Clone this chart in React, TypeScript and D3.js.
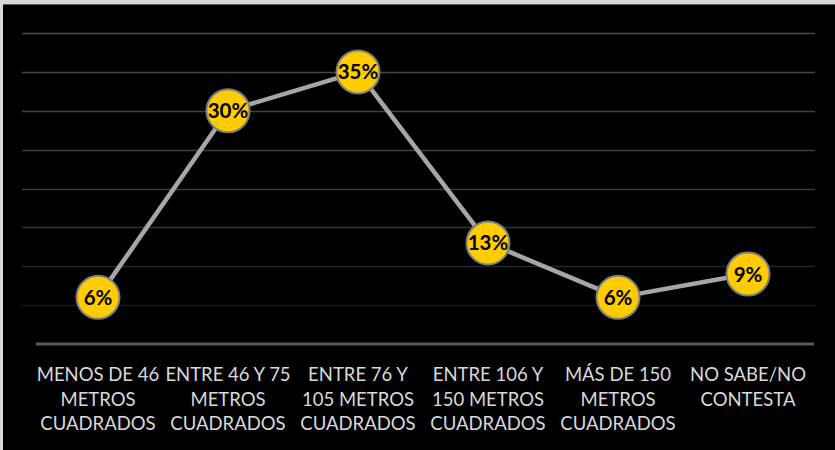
import { useEffect, useRef } from 'react';
import * as d3 from 'd3';

const categories = [
  ['MENOS DE 46', 'METROS', 'CUADRADOS'],
  ['ENTRE 46 Y 75', 'METROS', 'CUADRADOS'],
  ['ENTRE 76 Y', '105 METROS', 'CUADRADOS'],
  ['ENTRE 106 Y', '150 METROS', 'CUADRADOS'],
  ['MÁS DE 150', 'METROS', 'CUADRADOS'],
  ['NO SABE/NO', 'CONTESTA'],
];
const values = [6, 30, 35, 13, 6, 9];
const yTicks = [0, 5, 10, 15, 20, 25, 30, 35, 40];

const App = () => {
  const ref = useRef<SVGSVGElement>(null);

  useEffect(() => {
    if (!ref.current) return;
    const svg = d3.select(ref.current);
    svg.selectAll('*').remove();

    const W = 835;
    const H = 450;

    // frame
    svg.append('rect').attr('width', W).attr('height', H).attr('fill', '#d9d9d9');
    svg.append('rect').attr('x', 3).attr('y', 4).attr('width', W - 3).attr('height', H - 4).attr('fill', '#000');
    svg.append('line').attr('x1', 3).attr('x2', W).attr('y1', 4.5).attr('y2', 4.5).attr('stroke', '#5a5a5a');

    const x = d3
      .scaleBand<number>()
      .domain(d3.range(values.length))
      .range([33, 813]);

    const y = d3.scaleLinear().domain([0, 40]).range([344, 33]);

    // gridlines fade towards the bottom
    const defs = svg.append('defs');
    const grad = defs
      .append('linearGradient')
      .attr('id', 'gridFade')
      .attr('gradientUnits', 'userSpaceOnUse')
      .attr('x1', 0)
      .attr('x2', 0)
      .attr('y1', 30)
      .attr('y2', 320);
    grad.append('stop').attr('offset', '0%').attr('stop-color', '#4a4a4a');
    grad.append('stop').attr('offset', '60%').attr('stop-color', '#3a3a3a');
    grad.append('stop').attr('offset', '100%').attr('stop-color', '#141414');

    svg
      .append('g')
      .selectAll('line')
      .data(yTicks.filter((t) => t > 0))
      .enter()
      .append('line')
      .attr('x1', 22)
      .attr('x2', 815)
      .attr('y1', (d) => Math.round(y(d)) + 0.5)
      .attr('y2', (d) => Math.round(y(d)) + 0.5)
      .attr('stroke', 'url(#gridFade)')
      .attr('stroke-width', 1.5);

    // category axis
    svg
      .append('line')
      .attr('x1', 36)
      .attr('x2', 814)
      .attr('y1', y(0))
      .attr('y2', y(0))
      .attr('stroke', '#595959')
      .attr('stroke-width', 3);

    const cx = (i: number) => (x(i) || 0) + x.bandwidth() / 2;

    const labels = svg
      .append('g')
      .selectAll('text')
      .data(categories)
      .enter()
      .append('text')
      .attr('x', (_, i) => cx(i))
      .attr('y', 381)
      .attr('text-anchor', 'middle')
      .attr('font-family', 'Lato, "Open Sans", sans-serif')
      .attr('font-size', '18.5px')
      .attr('fill', '#d9d9d9');
    labels
      .selectAll('tspan')
      .data((d) => d)
      .enter()
      .append('tspan')
      .attr('x', function () {
        return (this.parentNode as SVGTextElement).getAttribute('x');
      })
      .attr('dy', (_, j) => (j === 0 ? 0 : 24.5))
      .text((d) => d);

    // line
    const line = d3
      .line<number>()
      .x((_, i) => cx(i))
      .y((d) => y(d));
    svg
      .append('path')
      .datum(values)
      .attr('d', line)
      .attr('fill', 'none')
      .attr('stroke', '#a6a6a6')
      .attr('stroke-width', 4.5)
      .attr('stroke-linejoin', 'round');

    // markers
    const pts = svg.append('g').selectAll('g').data(values).enter().append('g');
    pts
      .append('circle')
      .attr('cx', (_, i) => cx(i))
      .attr('cy', (d) => y(d))
      .attr('r', 21.5)
      .attr('fill', '#ffcc00')
      .attr('stroke', '#7f7f7f')
      .attr('stroke-width', 2);
    pts
      .append('text')
      .attr('x', (_, i) => cx(i))
      .attr('y', (d) => y(d) + 7.5)
      .attr('text-anchor', 'middle')
      .attr('font-family', 'Lato, "Open Sans", sans-serif')
      .attr('font-weight', 'bold')
      .attr('font-size', '20.5px')
      .attr('fill', '#000')
      .text((d) => `${d}%`);
  }, []);

  return (
    <div style={{ position: 'absolute', left: 0, top: 0 }}>
      <svg ref={ref} width={835} height={450} style={{ display: 'block' }}></svg>
    </div>
  );
};

export default App;
